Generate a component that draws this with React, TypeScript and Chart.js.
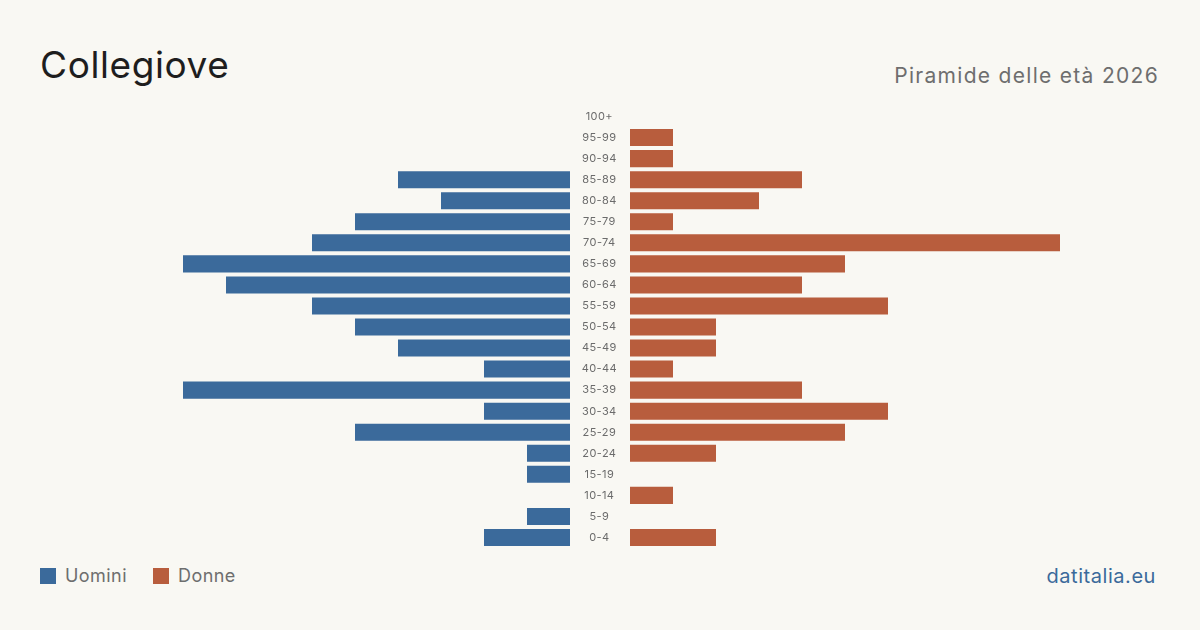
import React, { useEffect, useRef } from "react";
import { Chart, registerables } from "chart.js";

Chart.register(...registerables);

// Age classes, oldest at the top
const ageGroups = [
  "100+", "95-99", "90-94", "85-89", "80-84", "75-79", "70-74", "65-69",
  "60-64", "55-59", "50-54", "45-49", "40-44", "35-39", "30-34", "25-29",
  "20-24", "15-19", "10-14", "5-9", "0-4",
];

// Residents per age class
const uomini = [0, 0, 0, 4, 3, 5, 6, 9, 8, 6, 5, 4, 2, 9, 2, 5, 1, 1, 0, 1, 2];
const donne = [0, 1, 1, 4, 3, 1, 10, 5, 4, 6, 2, 2, 1, 4, 6, 5, 2, 0, 1, 0, 2];

const axisMax = 10;

const BLUE = "#3b6a9b";
const RUST = "#b85d3d";
const BG = "#f9f8f3";
const FONT = "Inter, 'Noto Sans', sans-serif";

// Slightly looser tracking for the age labels drawn on the canvas
const trackingPlugin = {
  id: "tracking",
  beforeDraw(chart: any) {
    chart.ctx.letterSpacing = "0.4px";
  },
};

export default function App() {
  const leftRef = useRef<HTMLCanvasElement | null>(null);
  const rightRef = useRef<HTMLCanvasElement | null>(null);

  useEffect(() => {
    document.body.style.margin = "0";
    document.body.style.background = BG;

    const left = new Chart(leftRef.current!, {
      type: "bar",
      data: {
        labels: ageGroups,
        datasets: [
          {
            label: "Uomini",
            data: uomini,
            backgroundColor: BLUE,
            categoryPercentage: 1,
            barPercentage: 0.81,
          },
        ],
      },
      options: {
        indexAxis: "y",
        responsive: false,
        animation: false,
        layout: { padding: 0 },
        plugins: { legend: { display: false }, tooltip: { enabled: false } },
        scales: {
          x: { display: false, reverse: true, min: 0, max: axisMax },
          y: { display: false },
        },
      },
    });

    const right = new Chart(rightRef.current!, {
      type: "bar",
      data: {
        labels: ageGroups,
        datasets: [
          {
            label: "Donne",
            data: donne,
            backgroundColor: RUST,
            categoryPercentage: 1,
            barPercentage: 0.81,
          },
        ],
      },
      options: {
        indexAxis: "y",
        responsive: false,
        animation: false,
        layout: { padding: 0 },
        plugins: { legend: { display: false }, tooltip: { enabled: false } },
        scales: {
          x: { display: false, min: 0, max: axisMax },
          y: {
            position: "left",
            grid: { display: false },
            border: { display: false },
            afterFit: (scale: any) => {
              scale.width = 60;
              scale.paddingTop = 0;
              scale.paddingBottom = 0;
            },
            ticks: {
              crossAlign: "center",
              padding: 6,
              color: "#6b6b6b",
              font: { family: FONT, size: 11 },
            },
          },
        },
      },
      plugins: [trackingPlugin],
    });

    return () => {
      left.destroy();
      right.destroy();
    };
  }, []);

  return (
    <div
      style={{
        position: "relative",
        width: 1200,
        height: 630,
        background: BG,
        fontFamily: FONT,
        overflow: "hidden",
      }}
    >
      <div
        style={{
          position: "absolute",
          left: 40,
          top: 42,
          fontSize: 37,
          letterSpacing: 0.6,
          color: "#1e1e1e",
          lineHeight: "46px",
        }}
      >
        Collegiove
      </div>
      <div
        style={{
          position: "absolute",
          right: 41,
          top: 62,
          fontSize: 21,
          letterSpacing: 1.3,
          color: "#6e6e6e",
          lineHeight: "28px",
        }}
      >
        Piramide delle età 2026
      </div>

      <canvas
        ref={leftRef}
        width={430}
        height={442}
        style={{ position: "absolute", left: 140, top: 106 }}
      />
      <canvas
        ref={rightRef}
        width={490}
        height={442}
        style={{ position: "absolute", left: 570, top: 106 }}
      />

      <div
        style={{
          position: "absolute",
          left: 40,
          top: 564,
          display: "flex",
          alignItems: "center",
          fontSize: 18,
          letterSpacing: 0.45,
          color: "#6e6e6e",
          lineHeight: "24px",
        }}
      >
        <span style={{ width: 16, height: 16, background: BLUE, display: "inline-block", marginRight: 9 }} />
        <span style={{ marginRight: 26 }}>Uomini</span>
        <span style={{ width: 16, height: 16, background: RUST, display: "inline-block", marginRight: 9 }} />
        <span>Donne</span>
      </div>

      <div
        style={{
          position: "absolute",
          right: 44,
          top: 563,
          fontSize: 20,
          letterSpacing: 0.55,
          color: "#3b6a9b",
          lineHeight: "26px",
        }}
      >
        datitalia.eu
      </div>
    </div>
  );
}
